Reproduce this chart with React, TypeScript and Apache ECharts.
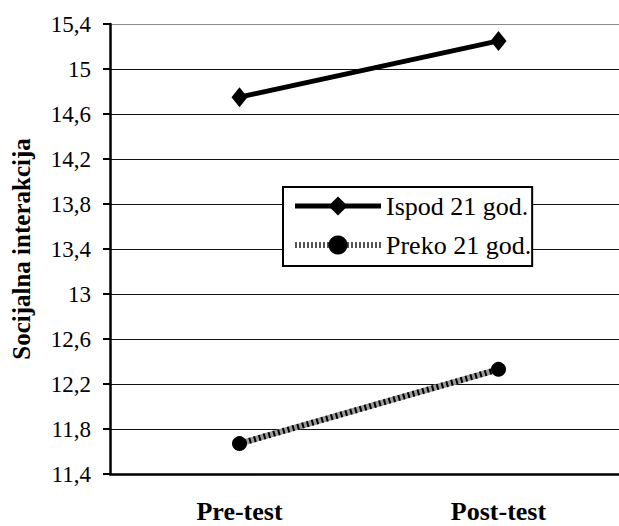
import React, { useEffect, useRef } from "react";
import * as echarts from "echarts";

const categories = ["Pre-test", "Post-test"];
const ispod21 = [14.75, 15.25];
const preko21 = [11.67, 12.33];
const seriesNames = ["Ispod 21 god.", "Preko 21 god."];
const yAxisName = "Socijalna interakcija";

const FONT = "Liberation Serif";

export default function App() {
  const ref = useRef<HTMLDivElement>(null);
  useEffect(() => {
    if (!ref.current) return;
    const chart = echarts.init(ref.current, undefined, { renderer: "svg" });
    const splitColors = Array(10).fill("#111").concat(["#8c8c8c"]);
    chart.setOption({
      animation: false,
      backgroundColor: "#fff",
      grid: { left: 110, top: 24, bottom: 52, right: 2, containLabel: false },
      legend: {
        data: [
          { name: seriesNames[0], lineStyle: { width: 5, color: "#000" } },
          { name: seriesNames[1], lineStyle: { width: 6, color: "#555", type: [2, 2] } },
        ],
        orient: "vertical",
        left: 283,
        top: 187,
        backgroundColor: "#fff",
        borderColor: "#000",
        borderWidth: 2,
        padding: [6, 1, 8, 9],
        itemWidth: 86,
        itemHeight: 24,
        itemGap: 13,
        textStyle: { fontFamily: FONT, fontSize: 26, color: "#000" },
      },
      xAxis: {
        type: "category",
        data: categories,
        boundaryGap: true,
        axisLine: { lineStyle: { color: "#000", width: 2.5 } },
        axisTick: { alignWithLabel: false, length: 9, lineStyle: { color: "#000", width: 2 } },
        axisLabel: { fontFamily: FONT, fontSize: 26, fontWeight: "bold", color: "#000", margin: 24 },
      },
      yAxis: {
        type: "value",
        min: 11.4,
        max: 15.4,
        interval: 0.4,
        name: yAxisName,
        nameLocation: "middle",
        nameGap: 76,
        nameTextStyle: { fontFamily: FONT, fontSize: 25, fontWeight: "bold", color: "#000" },
        axisLine: { show: true, lineStyle: { color: "#000", width: 2.5 } },
        axisTick: { show: true, length: 7, lineStyle: { color: "#000", width: 2 } },
        axisLabel: {
          fontFamily: FONT,
          fontSize: 23,
          color: "#000",
          margin: 19,
          formatter: (v: number) => String(Number(v.toFixed(1))).replace(".", ","),
        },
        splitLine: { show: true, lineStyle: { color: splitColors, width: 1.2 } },
      },
      series: [
        {
          name: seriesNames[0],
          type: "line",
          data: ispod21,
          symbol: "diamond",
          symbolSize: [16, 20],
          itemStyle: { color: "#000" },
          lineStyle: { color: "#000", width: 5 },
          z: 3,
        },
        {
          name: "preko-bg",
          type: "line",
          data: preko21,
          symbol: "none",
          lineStyle: { color: "#9a9a9a", width: 6 },
          silent: true,
          z: 2,
        },
        {
          name: seriesNames[1],
          type: "line",
          data: preko21,
          symbol: "circle",
          symbolSize: 15,
          itemStyle: { color: "#000" },
          lineStyle: { color: "#000", width: 6, type: [2, 3] },
          z: 3,
        },
      ],
    });
    return () => chart.dispose();
  }, []);
  return (
    <div style={{ width: 619, height: 526, position: "absolute", left: 0, top: 0, overflow: "hidden" }}>
      <div ref={ref} style={{ width: 630, height: 526 }} />
    </div>
  );
}
